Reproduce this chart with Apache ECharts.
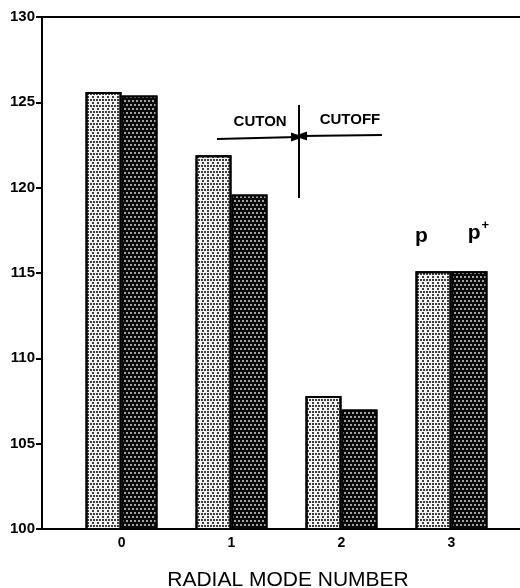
<!DOCTYPE html>
<html>
<head>
<meta charset="utf-8">
<script src="https://cdn.jsdelivr.net/npm/echarts@6/dist/echarts.min.js"></script>
<style>
  html, body { margin: 0; padding: 0; background: #fff; }
  #chart { width: 520px; height: 588px; }
</style>
</head>
<body>
<div id="chart"></div>
<script>
// Radial mode number on the x axis, level on the y axis (100..130)
const modes = [0, 1, 2, 3];
const lightValues = [125.6, 121.9, 107.8, 115.1];
const darkValues = [125.4, 119.6, 107.0, 115.1];
const yTicks = [100, 105, 110, 115, 120, 125, 130];

const FONT = '"Liberation Sans", Arial, Helvetica, sans-serif';

// dotted screen fills for the two bar shades
const lightDecal = {
  symbol: 'circle', symbolSize: 1, color: '#000000',
  dashArrayX: [[2, 1], [0, 1.5, 2, 0.5]], dashArrayY: [2, 1]
};
const darkDecal = {
  symbol: 'circle', symbolSize: 1, color: '#d8d8d8',
  dashArrayX: [[1.5, 1.5], [0, 1.5, 1.5, 0]], dashArrayY: [1.5, 1.5]
};

const chart = echarts.init(document.getElementById('chart'), null, { renderer: 'canvas' });

const lightData = modes.map((m, i) => {
  const item = { value: [m, lightValues[i]] };
  if (m === 3) {
    item.label = {
      show: true, position: 'top', distance: 25, offset: [-12, 0],
      formatter: 'p', fontFamily: FONT, fontWeight: 'bold', fontSize: 21, color: '#000'
    };
  }
  return item;
});
const darkData = modes.map((m, i) => {
  const item = { value: [m, darkValues[i]] };
  if (m === 3) {
    item.label = {
      show: true, position: 'top', distance: 25, offset: [9, 0],
      formatter: '{a|p}{b|+}',
      rich: {
        a: { fontFamily: FONT, fontWeight: 'bold', fontSize: 21, color: '#000' },
        b: { fontFamily: FONT, fontWeight: 'bold', fontSize: 13, color: '#000', padding: [0, 0, 14, 1] }
      }
    };
  }
  return item;
});

const textLabel = (txt) => ({
  show: true, position: 'inside', formatter: txt,
  fontFamily: FONT, fontWeight: 'bold', fontSize: 15, color: '#000'
});

chart.setOption({
  animation: false,
  backgroundColor: '#fff',
  grid: { left: 42, right: 0, top: 17, bottom: 59, containLabel: false, outerBoundsMode: 'none' },
  xAxis: [
    {
      type: 'value', min: -0.723, max: 3.623,
      axisLine: { show: true, onZero: false, lineStyle: { color: '#000', width: 2 } },
      axisTick: { show: false },
      splitLine: { show: false },
      axisLabel: {
        customValues: modes, margin: 7,
        fontFamily: FONT, fontWeight: 'bold', fontSize: 14, color: '#000'
      },
      name: 'RADIAL MODE NUMBER', nameLocation: 'middle', nameGap: 41,
      nameTextStyle: { fontFamily: FONT, fontSize: 21, color: '#000', padding: [0, 0, 0, 14] }
    },
    {
      type: 'value', position: 'top', min: -0.723, max: 3.623,
      axisLine: { show: true, onZero: false, lineStyle: { color: '#000', width: 2 } },
      axisTick: { show: false }, axisLabel: { show: false }, splitLine: { show: false }
    }
  ],
  yAxis: {
    type: 'value', min: yTicks[0], max: yTicks[yTicks.length - 1], interval: 5,
    axisLine: { show: true, onZero: false, lineStyle: { color: '#000', width: 2 } },
    axisTick: { show: true, length: 6, lineStyle: { color: '#000', width: 2 } },
    splitLine: { show: false },
    axisLabel: { margin: 7, fontFamily: FONT, fontWeight: 'bold', fontSize: 15, color: '#000' }
  },
  series: [
    {
      type: 'bar', name: 'p', data: lightData, barWidth: 36, barGap: '0%',
      itemStyle: { color: '#f4f4f4', borderColor: '#000', borderWidth: 2, decal: lightDecal }
    },
    {
      type: 'bar', name: 'p+', data: darkData, barWidth: 36, barGap: '0%',
      itemStyle: { color: '#0a0a0a', borderColor: '#000', borderWidth: 2, decal: darkDecal }
    },
    {
      // cuton / cutoff boundary annotation between modes 1 and 2
      type: 'line', name: 'boundary', data: [], silent: true,
      markLine: {
        silent: true, symbol: 'none', animation: false,
        lineStyle: { color: '#000', width: 2, type: 'solid' },
        label: { show: false },
        data: [
          [{ coord: [0.868, 122.85] }, { coord: [1.6, 122.97], symbol: 'triangle', symbolSize: [9, 13], symbolRotate: -90 }],
          [{ coord: [2.368, 123.09] }, { coord: [1.628, 123.03], symbol: 'triangle', symbolSize: [9, 13], symbolRotate: 90 }],
          [{ coord: [1.614, 124.84] }, { coord: [1.614, 119.4] }]
        ]
      },
      markPoint: {
        silent: true, symbol: 'circle', symbolSize: 1,
        itemStyle: { color: 'rgba(0,0,0,0)' },
        data: [
          { coord: [1.26, 123.85], label: textLabel('CUTON') },
          { coord: [2.077, 123.97], label: textLabel('CUTOFF') }
        ]
      }
    }
  ]
});
</script>
</body>
</html>
